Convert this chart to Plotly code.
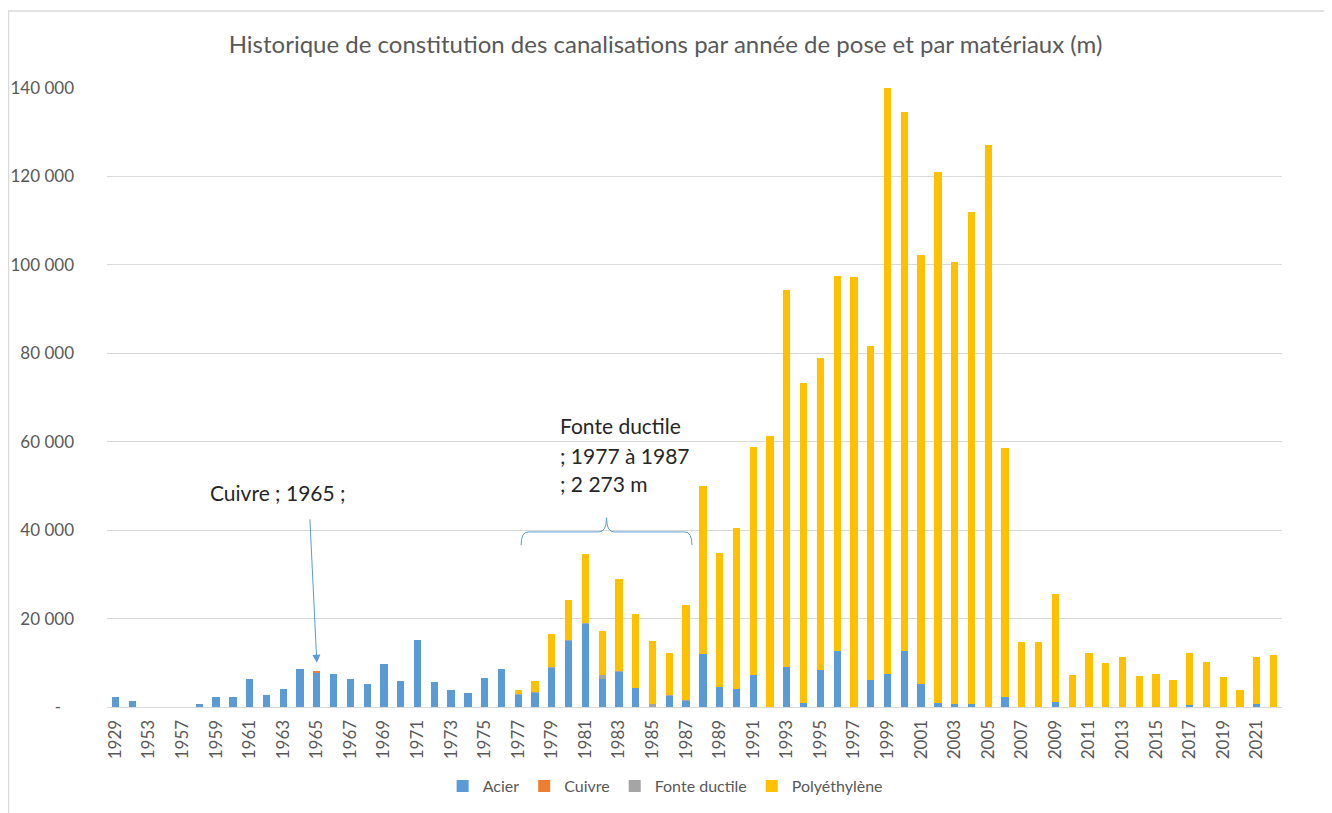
import plotly.graph_objects as go

# Années de pose (deux catégories non étiquetées entre 1929 et 1957)
annees = ["1929", "1930", "1953", "1955", "1957", "1958"] + [str(a) for a in range(1959, 2023)]

# Longueurs posées (m) par matériau
acier = [
    2300, 1400, 0, 0, 0, 600, 2300, 2300, 6300, 2700,
    4000, 8500, 7800, 7500, 6300, 5100, 9700, 5900, 15100, 5600,
    3900, 3200, 6500, 8700, 2900, 3300, 8900, 15000, 18900, 6300,
    8100, 4300, 0, 2700, 1500, 11900, 4600, 4100, 7200, 0,
    9100, 900, 8400, 12700, 0, 6100, 7500, 12700, 5200, 800,
    600, 700, 0, 2300, 0, 0, 1100, 0, 0, 0,
    0, 0, 0, 0, 400, 0, 0, 0, 600, 0,
]
cuivre = [0] * 12 + [150] + [0] * 57
fonte_ductile = [0] * 24 + [50, 50, 100, 100, 100, 850, 100, 73, 750, 50, 50] + [0] * 35
polyethylene = [
    0, 0, 0, 0, 0, 0, 0, 0, 0, 0,
    0, 0, 0, 0, 0, 0, 0, 0, 0, 0,
    0, 0, 0, 0, 950, 2450, 7400, 9200, 15600, 10150,
    20700, 16700, 14150, 9450, 21450, 38100, 30300, 36400, 51600, 61300,
    85300, 72400, 70500, 84700, 97200, 75600, 132400, 121800, 97000, 120300,
    100000, 111200, 127000, 56300, 14700, 14700, 24400, 7200, 12300, 10000,
    11200, 7000, 7400, 6200, 11900, 10200, 6700, 3800, 10600, 11700,
]

y_ticks = [0, 20000, 40000, 60000, 80000, 100000, 120000, 140000]
y_labels = ["-\u00a0\u00a0\u00a0"] + [f"{v:,}".replace(",", " ") for v in y_ticks[1:]]

series = [
    ("Acier", acier, "#5B9BD5"),
    ("Cuivre", cuivre, "#ED7D31"),
    ("Fonte ductile", fonte_ductile, "#A5A5A5"),
    ("Polyéthylène", polyethylene, "#FFC000"),
]

FONT = "Lato, 'Open Sans', sans-serif"
GREY = "#595959"
W, H = 1324, 813  # la page est décalée de 8 px (marge du body)

fig = go.Figure()
for nom, vals, couleur in series:
    fig.add_trace(go.Bar(x=annees, y=vals, name=nom, marker_color=couleur, marker_line_width=0))

# Accolade "Fonte ductile" (x en index de catégorie)
brace = (
    "M 24.17,36600 Q 24.17,39600 24.6,39600 L 28.8,39600 "
    "Q 29.26,39600 29.26,42800 Q 29.26,39600 29.7,39600 "
    "L 33.9,39600 Q 34.35,39600 34.35,36600"
)

note_font = dict(size=21, color="#262626", family=FONT)

fig.update_layout(
    width=W,
    height=H,
    margin=dict(l=99, r=50, t=80, b=114),
    paper_bgcolor="white",
    plot_bgcolor="white",
    barmode="stack",
    bargap=0.565,
    font=dict(family=FONT, color=GREY, size=17),
    title=dict(
        text="Historique de constitution des canalisations par année de pose et par matériaux (m)",
        x=657.5 / W, xref="container", xanchor="center",
        y=1 - 37 / H, yref="container", yanchor="middle",
        font=dict(size=24, color=GREY, family=FONT),
    ),
    xaxis=dict(
        type="category",
        tickmode="array",
        tickvals=annees[::2],
        tickangle=-90,
        showgrid=False,
        showline=True,
        linecolor="#D9D9D9",
        linewidth=1,
        ticks="",
        ticklabelstandoff=5,
        automargin=False,
        tickfont=dict(size=17, color=GREY),
    ),
    yaxis=dict(
        range=[0, 140000],
        tickmode="array",
        tickvals=y_ticks,
        ticktext=y_labels,
        showgrid=True,
        gridcolor="#D9D9D9",
        gridwidth=1,
        zeroline=False,
        ticks="",
        ticklabelstandoff=32,
        automargin=False,
        tickfont=dict(size=17, color=GREY),
    ),
    legend=dict(
        orientation="h",
        x=0.475, xanchor="center",
        y=(707 - 786) / 619, yanchor="middle",
        font=dict(size=16, color=GREY),
        itemwidth=30,
        traceorder="normal",
    ),
    shapes=[
        dict(type="path", path=brace, xref="x", yref="y",
             line=dict(color="#5B9BD5", width=1)),
        dict(type="rect", xref="paper", yref="paper",
             x0=(8.5 - 107) / 1175, x1=(1327 - 107) / 1175,
             y0=(707 - 830) / 619, y1=(707 - 11) / 619,
             line=dict(color="#D9D9D9", width=1.5), layer="below"),
    ],
    annotations=[
        dict(text="Cuivre ; 1965 ;", x=5.54, y=48600, xref="x", yref="y",
             xanchor="left", yanchor="middle", showarrow=False, font=note_font),
        dict(text="", x=12, y=10000, xref="x", yref="y",
             ax=-7, ay=-145, showarrow=True, arrowhead=2, arrowsize=1.6,
             arrowwidth=1, arrowcolor="#5B9BD5"),
        dict(text="Fonte ductile", x=26.37, y=63600, xref="x", yref="y",
             xanchor="left", yanchor="middle", showarrow=False, font=note_font),
        dict(text="; 1977 à 1987", x=26.37, y=56900, xref="x", yref="y",
             xanchor="left", yanchor="middle", showarrow=False, font=note_font),
        dict(text="; 2 273 m", x=26.37, y=50500, xref="x", yref="y",
             xanchor="left", yanchor="middle", showarrow=False, font=note_font),
    ],
)

fig.write_html("out.html")
